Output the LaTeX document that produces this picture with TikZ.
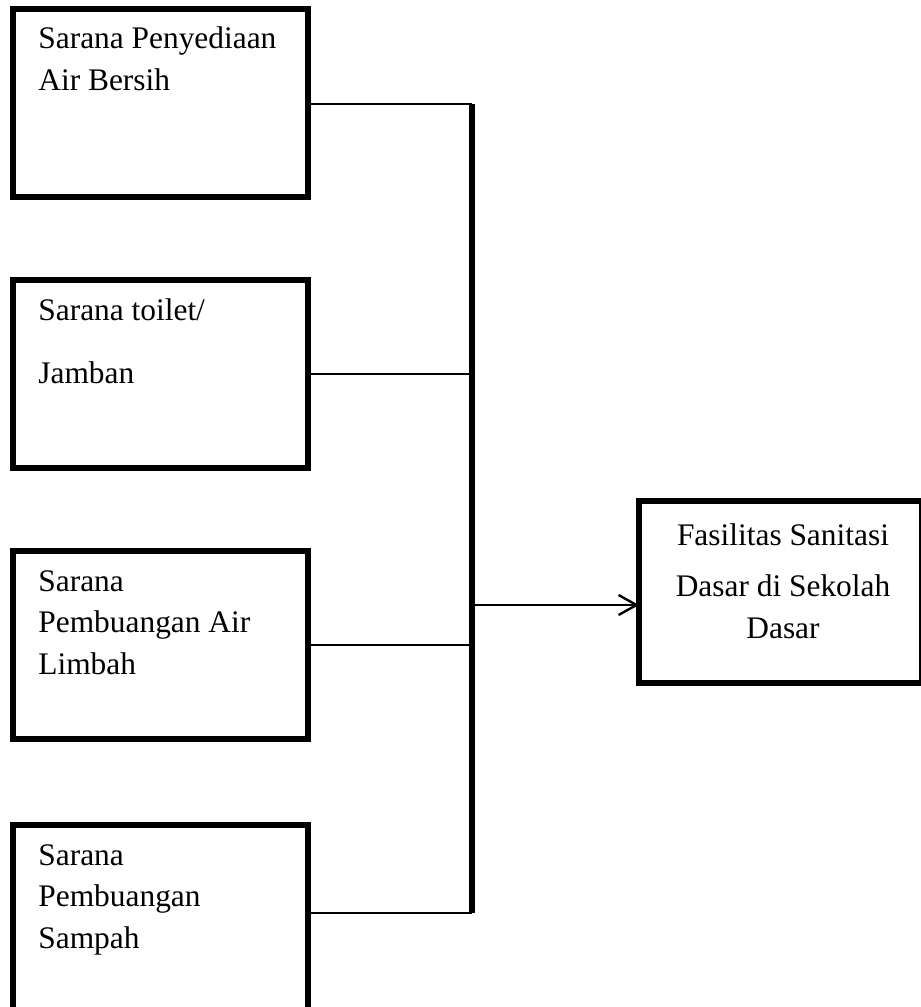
\documentclass[tikz,border=0pt]{standalone}
\usepackage{fontspec}
\setmainfont{Liberation Serif}
\usetikzlibrary{positioning,calc,arrows.meta}
\tikzset{
    kotak/.style={draw,line width=2.6pt,rectangle,inner sep=0pt,outer sep=0pt,
      minimum width=147.5pt,minimum height=94pt},
    tulisan/.style={anchor=base west,inner sep=0pt,align=left,
      font=\fontsize{15.7}{20.7}\selectfont},
    garis/.style={line width=1pt},
    tiang/.style={line width=2.7pt},
  }
\begin{document}
\begin{tikzpicture}[x=0.5pt,y=-0.5pt]
  %batas gambar
  \useasboundingbox (0,0) rectangle (921,1007);
  %KOTAK KIRI
  \node[kotak,anchor=north west] (air) at (13,9) {};
  \node[kotak,below=41.5pt of air] (jamban) {};
  \node[kotak,below=41.5pt of jamban] (limbah) {};
  \node[kotak,below=43pt of limbah] (sampah) {};
  %teks (base = baris terakhir)
  \node[tulisan] (airtxt) at ($(air.north west)+(25,81)$) {Sarana Penyediaan\\Air Bersih};
  \node[tulisan] (jambantxt) at ($(jamban.north west)+(25,103)$) {Sarana toilet/\\[10.5pt]Jamban};
  \node[tulisan] (limbahtxt) at ($(limbah.north west)+(25,123)$) {Sarana\\Pembuangan Air\\Limbah};
  \node[tulisan] (sampahtxt) at ($(sampah.north west)+(25,123)$) {Sarana\\Pembuangan\\Sampah};
  %KOTAK KANAN
  \node[kotak,anchor=north west,minimum width=141.5pt,minimum height=91pt] (fasilitas) at (639,501) {};
  \node[tulisan,anchor=base,align=center] (fasilitastxt) at (783,638) {Fasilitas Sanitasi\\[5pt]Dasar di Sekolah\\Dasar};
  %tiang
  \coordinate (atas) at (472,104);
  \coordinate (bawah) at (472,913);
  \coordinate (keluar) at (472,605);
  \draw[tiang] (atas) -- (bawah);
  %cabang
  \draw[garis] (air.east |- atas) -- (atas);
  \draw[garis] (jamban.east) -- (jamban.east -| atas);
  \draw[garis] (limbah.east) -- (limbah.east -| atas);
  \draw[garis] (sampah.east |- bawah) -- (bawah);
  %panah
  \draw[garis,line width=1.2pt,-{Straight Barb[length=9pt,width=10pt]}] (keluar) -- (keluar -| fasilitas.west);
\end{tikzpicture}
\end{document}
